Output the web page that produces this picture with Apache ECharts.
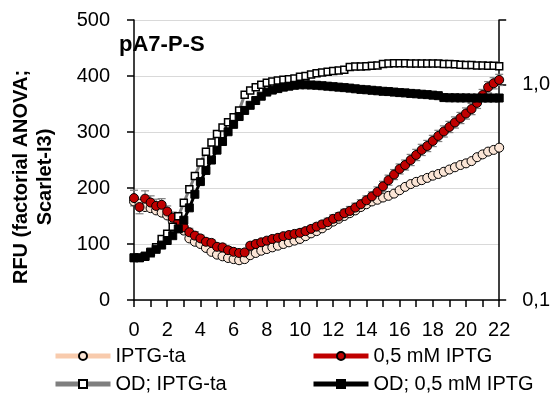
<!DOCTYPE html>
<html><head><meta charset="utf-8">
<script src="https://cdn.jsdelivr.net/npm/echarts@6/dist/echarts.min.js"></script>
<style>html,body{margin:0;padding:0;background:#fff}#c{width:553px;height:396px}</style>
</head><body><div id="c"></div>
<script>
// sampling: one reading every 20 min (hours)
const timeStepHours = 1 / 3;

// RFU (left axis)
const rfuIptgTa = [176,172,166,164,160,156,151,141,133,124,110,104,100,93,86,81,78,75,73,71,73,80,84,88,91,94,97,100,103,106,109,114,119,123,128,134,140,145,150,155,160,166,171,176,179,183,186,190,196,202,207,211,214,218,222,225,229,233,237,241,244,248,255,260,265,268,272];
const rfuIptg05 = [182,166,181,174,168,170,158,147,139,130,121,115,110,104,102,95,94,89,86,84,85,97,100,103,106,109,111,114,116,118,120,123,127,131,135,139,145,149,155,159,165,171,178,185,193,203,214,224,234,241,250,259,268,275,284,293,301,309,317,325,333,341,352,366,380,387,393];
const rfuIptg05Err = [14,12,14,12,12,11,10,10,9,8,7,7,6,6,6,6,6,6,6,5,5,5,5,5,5,5,5,5,5,5,6,6,6,6,6,7,7,7,7,8,8,8,8,8,9,9,9,9,9,9,10,10,10,10,10,10,10,10,10,10,10,10,10,10,10,10,10];

// OD (right log axis)
const odIptgTa = [0.157,0.157,0.159,0.165,0.176,0.192,0.203,0.219,0.245,0.283,0.327,0.377,0.435,0.488,0.540,0.590,0.634,0.669,0.706,0.759,0.898,0.940,0.975,1.000,1.021,1.036,1.047,1.055,1.062,1.070,1.090,1.100,1.115,1.130,1.140,1.150,1.160,1.165,1.175,1.210,1.215,1.215,1.220,1.225,1.230,1.250,1.255,1.260,1.260,1.260,1.255,1.255,1.255,1.255,1.255,1.255,1.250,1.250,1.245,1.240,1.235,1.235,1.230,1.230,1.225,1.225,1.220];
const odIptg05 = [0.157,0.157,0.160,0.167,0.172,0.180,0.189,0.199,0.214,0.235,0.268,0.310,0.355,0.400,0.447,0.497,0.545,0.605,0.655,0.712,0.760,0.803,0.845,0.885,0.925,0.945,0.960,0.975,0.985,0.995,1.000,1.000,0.998,0.995,0.990,0.985,0.980,0.975,0.970,0.965,0.958,0.952,0.948,0.943,0.938,0.933,0.930,0.925,0.920,0.917,0.912,0.908,0.904,0.900,0.895,0.890,0.872,0.870,0.870,0.869,0.869,0.868,0.868,0.868,0.868,0.868,0.868];

const seriesNames = ['IPTG-ta', '0,5 mM IPTG', 'OD; IPTG-ta', 'OD; 0,5 mM IPTG'];
const titleText = 'pA7-P-S';
const yAxisTitle = 'RFU (factorial ANOVA;\nScarlet-I3)';
const rightTickLabels = [[0.1, '0,1'], [1, '1,0']];

const times = rfuIptg05.map((_, i) => i * timeStepHours);
const pairs = arr => arr.map((v, i) => [times[i], v]);

const FONT = 'Liberation Sans';
const chart = echarts.init(document.getElementById('c'), null, {renderer: 'canvas'});

const errData = rfuIptg05.map((v, i) => [times[i], v, rfuIptg05Err[i]]);

const legendSlots = [[53, 346], [311, 346], [53, 374], [311, 374]];
const legends = seriesNames.map((n, i) => ({
  data: [n], orient: 'horizontal', left: legendSlots[i][0], top: legendSlots[i][1],
  itemWidth: 55, itemHeight: 10, padding: 0,
  textStyle: {fontSize: 20, fontFamily: FONT, color: '#000'},
  lineStyle: {width: 5}
}));

chart.setOption({
  animation: false,
  backgroundColor: '#fff',
  textStyle: {fontFamily: FONT, color: '#000'},
  grid: {left: 134, right: 53, top: 20, bottom: 96, containLabel: false},
  xAxis: {
    type: 'value', min: 0, max: 22, interval: 1,
    axisLine: {lineStyle: {color: '#000', width: 1.5}},
    axisTick: {inside: false, length: 7, lineStyle: {color: '#000', width: 1.5}},
    splitLine: {show: false},
    axisLabel: {
      margin: 20, fontSize: 20, fontFamily: FONT, color: '#000',
      formatter: v => (v % 2 === 0 ? String(v) : '')
    }
  },
  yAxis: [{
    type: 'value', min: 0, max: 500, interval: 100,
    axisLine: {show: true, lineStyle: {color: '#000', width: 1.5}},
    axisTick: {show: true, inside: false, length: 7, lineStyle: {color: '#000', width: 1.5}},
    splitLine: {show: true, lineStyle: {color: '#D9D9D9', width: 1.2}},
    axisLabel: {margin: 24, fontSize: 20, fontFamily: FONT, color: '#000'}
  }, {
    type: 'log', logBase: 10, min: 0.1, max: 2, position: 'right',
    axisLine: {show: true, lineStyle: {color: '#000', width: 1.5}},
    axisTick: {show: true, inside: false, length: 7, lineStyle: {color: '#000', width: 1.5}},
    splitLine: {show: false},
    axisLabel: {
      margin: 23, fontSize: 20, fontFamily: FONT, color: '#000',
      formatter: v => {
        for (const [tv, lab] of rightTickLabels) if (Math.abs(v - tv) < 1e-6) return lab;
        return '';
      }
    }
  }],
  legend: legends,
  graphic: [{
    type: 'text', left: 119, top: 34,
    style: {text: titleText, font: 'bold 22px "Liberation Sans"', fill: '#000'}
  }, {
    type: 'text', x: 33, y: 177, rotation: Math.PI / 2,
    style: {text: yAxisTitle, font: 'bold 20px "Liberation Sans"', fill: '#000',
      align: 'center', verticalAlign: 'middle', lineHeight: 24}
  }],
  series: [{
    name: seriesNames[0], type: 'line', yAxisIndex: 0, data: pairs(rfuIptgTa),
    symbol: 'circle', symbolSize: 9, showAllSymbol: true,
    itemStyle: {color: '#FBE5D6', borderColor: '#000', borderWidth: 1},
    lineStyle: {color: '#F8CBAD', width: 3}, z: 2
  }, {
    type: 'custom', yAxisIndex: 0, data: errData, z: 2, silent: true,
    renderItem: (params, api) => {
      const x = api.value(0), y = api.value(1), e = api.value(2);
      const hi = api.coord([x, y + e]), lo = api.coord([x, y - e]);
      const w = 4;
      const st = {stroke: '#808080', lineWidth: 1.2};
      return {type: 'group', children: [
        {type: 'line', shape: {x1: hi[0], y1: hi[1], x2: lo[0], y2: lo[1]}, style: st},
        {type: 'line', shape: {x1: hi[0] - w, y1: hi[1], x2: hi[0] + w, y2: hi[1]}, style: st},
        {type: 'line', shape: {x1: lo[0] - w, y1: lo[1], x2: lo[0] + w, y2: lo[1]}, style: st}
      ]};
    }
  }, {
    name: seriesNames[1], type: 'line', yAxisIndex: 0, data: pairs(rfuIptg05),
    symbol: 'circle', symbolSize: 9, showAllSymbol: true,
    itemStyle: {color: '#C00000', borderColor: '#000', borderWidth: 1},
    lineStyle: {color: '#C00000', width: 3}, z: 2
  }, {
    name: seriesNames[2], type: 'line', yAxisIndex: 1, data: pairs(odIptgTa),
    symbol: 'rect', symbolSize: 7, showAllSymbol: true,
    itemStyle: {color: '#fff', borderColor: '#000', borderWidth: 1.5},
    lineStyle: {color: '#7F7F7F', width: 3}, z: 2
  }, {
    name: seriesNames[3], type: 'line', yAxisIndex: 1, data: pairs(odIptg05),
    symbol: 'rect', symbolSize: 8, showAllSymbol: true,
    itemStyle: {color: '#000', borderColor: '#000', borderWidth: 1},
    lineStyle: {color: '#000', width: 3}, z: 2
  }]
});
</script>
</body></html>
